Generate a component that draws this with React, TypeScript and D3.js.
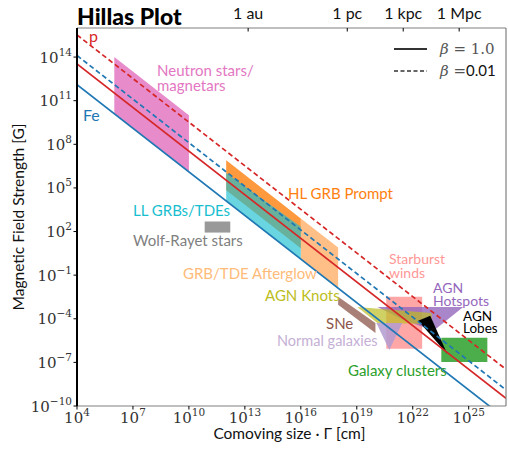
import React from "react";
import * as d3 from "d3";

const W = 508;
const H = 450;
const M = { left: 77, right: 2, top: 28, bottom: 44 };

// ---- axes data ----
const X_DOMAIN = [1e4, 1e27];
const Y_DOMAIN = [1e-10, 1e16];
const X_TICK_EXPONENTS = [4, 7, 10, 13, 16, 19, 22, 25];
const Y_TICK_EXPONENTS = [-10, -7, -4, -1, 2, 5, 8, 11, 14];
const TOP_TICK_LABELS = ["1 au", "1 pc", "1 kpc", "1 Mpc"];
const TOP_TICK_VALUES_CM = [1.496e13, 3.086e18, 3.086e21, 3.086e24];

// ---- Hillas lines (E = 1e20 eV) ----
const LINE_IDS = ["p_beta1", "p_beta001", "fe_beta1", "fe_beta001"];
const LINE_R = [1e4, 1e27];
const LINE_B = [
  [3.33e13, 3.33e-10],
  [3.33e15, 3.33e-8],
  [1.28e12, 1.28e-11],
  [1.28e14, 1.28e-9],
];

// ---- source regions (vertices: size R [cm], field B [G]) ----
const REGION_NAMES = [
  "Neutron stars",
  "GRB/TDE Afterglow",
  "HL GRB Prompt",
  "LL GRBs/TDEs",
  "Wolf-Rayet stars",
  "Starburst winds",
  "AGN Hotspots",
  "AGN Knots",
  "SNe",
  "Normal galaxies",
  "Galaxy clusters",
  "AGN Lobes",
];
const REGION_R = [
  [1e6, 1e10, 1e10, 1e6],
  [1e16, 1e18, 1e18, 1e16],
  [1e12, 1e16, 1e16, 1e12],
  [1e12, 1e16, 1e16, 1e12],
  [7e10, 1.65e12, 1.65e12, 7e10],
  [3.8e20, 3.2e22, 3.2e22, 3.8e20],
  [1.26e20, 5.1e24, 1.26e23, 2.1e21],
  [1.07e19, 1e23, 1.12e23, 1.26e20],
  [1e18, 1e20, 1e20, 1e18],
  [1.12e20, 2.75e21, 5.6e20],
  [3.4e23, 1e26, 1e26, 3.4e23],
  [1.95e22, 8.7e22, 7.1e23],
];
const REGION_B = [
  [1e14, 1e10, 1.29e6, 1.29e10],
  [8e2, 8, 1.29e-2, 1.29],
  [8e6, 8e2, 7, 7e4],
  [1.05e6, 2.1e2, 1.29, 1.29e4],
  [490, 490, 85, 85],
  [3.3e-3, 3.3e-3, 8.5e-7, 8.5e-7],
  [6.5e-4, 6.5e-4, 1.45e-5, 1.1e-4],
  [6.5e-4, 2.5e-4, 4.4e-5, 5.2e-5],
  [3.3e-3, 5.2e-5, 1.07e-5, 9.3e-4],
  [5.2e-5, 5.2e-5, 7.2e-7],
  [4.9e-6, 4.9e-6, 1.07e-7, 1.07e-7],
  [7.2e-5, 1.6e-4, 3.8e-7],
];

// ---- styles (kept apart from data) ----
const LINE_STYLE: Record<string, { color: string; dash: string | null }> = {
  p_beta1: { color: "#d62728", dash: null },
  p_beta001: { color: "#d62728", dash: "5,3" },
  fe_beta1: { color: "#1f77b4", dash: null },
  fe_beta001: { color: "#1f77b4", dash: "5,3" },
};
const REGION_STYLE: Record<string, { fill: string; opacity: number }> = {
  "Neutron stars": { fill: "#e377c2", opacity: 0.85 },
  "GRB/TDE Afterglow": { fill: "#ff7f0e", opacity: 0.5 },
  "HL GRB Prompt": { fill: "#ff7f0e", opacity: 0.8 },
  "LL GRBs/TDEs": { fill: "#17becf", opacity: 0.65 },
  "Wolf-Rayet stars": { fill: "#7f7f7f", opacity: 0.8 },
  "Starburst winds": { fill: "#ff9896", opacity: 0.85 },
  "AGN Hotspots": { fill: "#9467bd", opacity: 0.8 },
  "AGN Knots": { fill: "#bcbd22", opacity: 0.7 },
  SNe: { fill: "#8c564b", opacity: 0.75 },
  "Normal galaxies": { fill: "#b39bd0", opacity: 0.85 },
  "Galaxy clusters": { fill: "#2ca02c", opacity: 0.85 },
  "AGN Lobes": { fill: "#000000", opacity: 1 },
};

// ---- annotation layout ----
type Ann = { lines: string[]; x: number; y: number; color: string; size: number; lh?: number };
const ANNOTATIONS: Ann[] = [
  { lines: ["p"], x: 89, y: 42, color: "#d62728", size: 16 },
  { lines: ["Fe"], x: 83, y: 121, color: "#1f77b4", size: 16 },
  { lines: ["Neutron stars/", "magnetars"], x: 157, y: 76, color: "#e377c2", size: 15, lh: 14.5 },
  { lines: ["HL GRB Prompt"], x: 288, y: 199, color: "#ff7f0e", size: 15 },
  { lines: ["LL GRBs/TDEs"], x: 133, y: 216, color: "#17becf", size: 15 },
  { lines: ["Wolf-Rayet stars"], x: 133, y: 246, color: "#7f7f7f", size: 15 },
  { lines: ["GRB/TDE Afterglow"], x: 183, y: 279, color: "#ffbb78", size: 15 },
  { lines: ["Starburst", "winds"], x: 389, y: 264, color: "#ff9896", size: 14, lh: 14 },
  { lines: ["AGN", "Hotspots"], x: 433, y: 293, color: "#9467bd", size: 14, lh: 13 },
  { lines: ["AGN", "Lobes"], x: 463, y: 321, color: "#000000", size: 13.5, lh: 12 },
  { lines: ["AGN Knots"], x: 265, y: 301, color: "#bcbd22", size: 15 },
  { lines: ["SNe"], x: 326, y: 329, color: "#8c564b", size: 15 },
  { lines: ["Normal galaxies"], x: 277, y: 346, color: "#c5b0d5", size: 14.5 },
  { lines: ["Galaxy clusters"], x: 348, y: 376, color: "#2ca02c", size: 15 },
];

const SANS = "Lato, 'Open Sans', sans-serif";
const SERIF = "'DejaVu Serif', serif";

export default function App() {
  const x = d3.scaleLog().domain(X_DOMAIN).range([M.left, W - M.right]);
  const y = d3.scaleLog().domain(Y_DOMAIN).range([H - M.bottom, M.top]);
  const x0 = M.left, x1 = W - M.right, y0 = H - M.bottom, y1 = M.top;

  const line = d3
    .line<[number, number]>()
    .x((d) => x(d[0]))
    .y((d) => y(d[1]));

  return (
    <svg
      width={W}
      height={H}
      style={{ position: "absolute", left: 0, top: 0, background: "#fff" }}
      xmlns="http://www.w3.org/2000/svg"
    >
      <defs>
        <clipPath id="plotclip">
          <rect x={x0} y={y1} width={x1 - x0} height={y0 - y1} />
        </clipPath>
      </defs>

      {/* regions */}
      <g clipPath="url(#plotclip)">
        {REGION_NAMES.map((name, i) => {
          const pts = REGION_R[i].map((r, k) => [r, REGION_B[i][k]] as [number, number]);
          const st = REGION_STYLE[name];
          return (
            <path
              key={name}
              d={line(pts)! + "Z"}
              fill={st.fill}
              fillOpacity={st.opacity}
              stroke="none"
            />
          );
        })}
        {/* Hillas lines */}
        {LINE_IDS.map((id, i) => {
          const pts = LINE_R.map((r, k) => [r, LINE_B[i][k]] as [number, number]);
          const st = LINE_STYLE[id];
          return (
            <path
              key={id}
              d={line(pts)!}
              fill="none"
              stroke={st.color}
              strokeWidth={1.7}
              strokeDasharray={st.dash ?? undefined}
            />
          );
        })}
      </g>

      {/* spines */}
      <line x1={x0} x2={x1} y1={y1} y2={y1} stroke="#808080" strokeWidth={1.2} />
      <line x1={x1} x2={x1} y1={y1} y2={y0} stroke="#808080" strokeWidth={1.2} />
      <line x1={x0} x2={x1} y1={y0} y2={y0} stroke="#808080" strokeWidth={1.2} />
      <line x1={x0} x2={x0} y1={y1} y2={y0} stroke="#000" strokeWidth={2} />

      {/* x ticks */}
      {X_TICK_EXPONENTS.map((e) => {
        const px = x(Math.pow(10, e));
        return (
          <g key={"xt" + e}>
            <line x1={px} x2={px} y1={y0} y2={y0 + 3.5} stroke="#000" strokeWidth={1} />
            <text x={px} y={y0 + 17} textAnchor="middle" fontFamily={SERIF} fontSize={15} fill="#333">
              10
              <tspan dy={-7} fontSize={10.5}>
                {e < 0 ? "\u2212" + Math.abs(e) : String(e)}
              </tspan>
            </text>
          </g>
        );
      })}

      {/* y ticks */}
      {Y_TICK_EXPONENTS.map((e) => {
        const py = y(Math.pow(10, e));
        return (
          <g key={"yt" + e}>
            <line x1={x0 - 3.5} x2={x0} y1={py} y2={py} stroke="#000" strokeWidth={1} />
            <text x={x0 - 5} y={py + 5.5} textAnchor="end" fontFamily={SERIF} fontSize={15} fill="#333">
              10
              <tspan dy={-7} fontSize={10.5}>
                {e < 0 ? "\u2212" + Math.abs(e) : String(e)}
              </tspan>
            </text>
          </g>
        );
      })}

      {/* top ticks */}
      {TOP_TICK_LABELS.map((lab, i) => {
        const px = x(TOP_TICK_VALUES_CM[i]);
        return (
          <g key={lab}>
            <line x1={px} x2={px} y1={y1} y2={y1 + 3.5} stroke="#000" strokeWidth={1} />
            <text x={px} y={y1 - 9} textAnchor="middle" fontFamily={SANS} fontSize={16} fill="#111">
              {lab}
            </text>
          </g>
        );
      })}

      {/* title */}
      <text x={77} y={25} fontFamily={SANS} fontWeight={900} fontSize={23} fill="#000">
        Hillas Plot
      </text>

      {/* axis labels */}
      <text
        x={(x0 + x1) / 2 - 2}
        y={439}
        textAnchor="middle"
        fontFamily={SANS}
        fontSize={15.5}
        fill="#111"
      >
        Comoving size · Γ [cm]
      </text>
      <text
        transform={`translate(24,${(y0 + y1) / 2}) rotate(-90)`}
        textAnchor="middle"
        fontFamily={SANS}
        fontSize={15.5}
        fill="#111"
      >
        Magnetic Field Strength [G]
      </text>

      {/* annotations: one text element per line */}
      {ANNOTATIONS.flatMap((a, i) =>
        a.lines.map((l, k) => (
          <text
            key={"a" + i + "_" + k}
            x={a.x}
            y={a.y + k * (a.lh ?? 0)}
            fontFamily={SANS}
            fontSize={a.size}
            fill={a.color}
          >
            {l}
          </text>
        ))
      )}

      {/* legend */}
      <line x1={394} x2={427} y1={49} y2={49} stroke="#333" strokeWidth={2} />
      <line x1={394} x2={427} y1={71} y2={71} stroke="#333" strokeWidth={1.6} strokeDasharray="4,2.5" />
      <text x={440} y={54} fontFamily={SERIF} fontSize={15} fill="#555">
        <tspan fontStyle="italic">β</tspan>
        <tspan> = 1.0</tspan>
      </text>
      <text x={440} y={76} fontFamily={SERIF} fontSize={15} fill="#555">
        <tspan fontStyle="italic">β</tspan>
        <tspan> =</tspan>
        <tspan fontFamily={SANS} fill="#111">0.01</tspan>
      </text>
    </svg>
  );
}
